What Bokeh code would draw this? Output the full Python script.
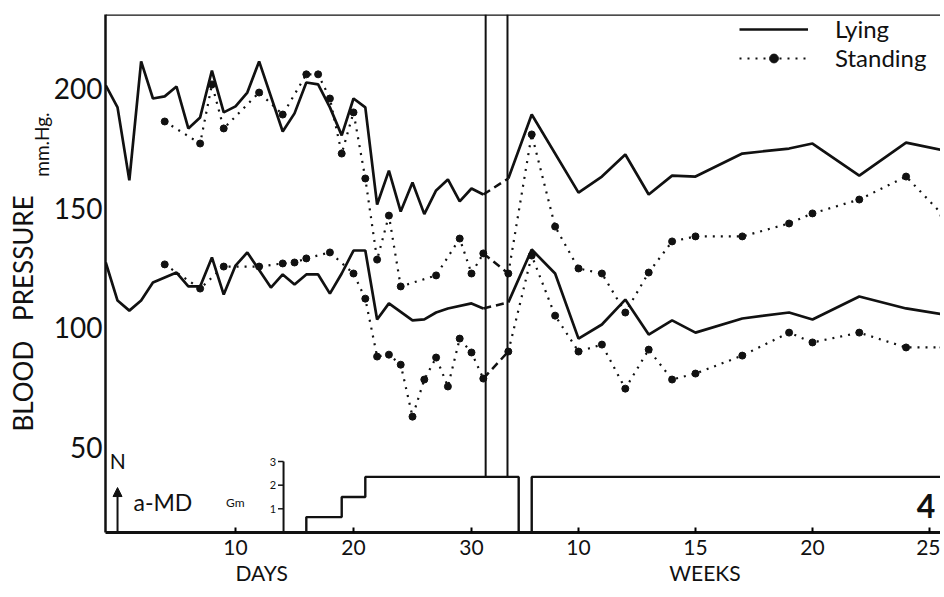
from bokeh.plotting import figure
from bokeh.models import (Range1d, FixedTicker, Span, Label, Arrow, NormalHead,
                          Legend, LegendItem, LinearAxis)
from bokeh.embed import file_html
from bokeh.resources import INLINE

FONT = "Lato"
INK = "#111111"
NB = "\u00a0"

# ---- data (mm Hg) ----
# days after start of a-MD (day -1 = control "N")
lying_sys_days = [-1, 0, 1, 2, 3, 4, 5, 6, 7, 8, 9, 10, 11, 12, 14, 15, 16, 17, 18, 19,
                  20, 21, 22, 23, 24, 25, 26, 27, 28, 29, 30, 31]
lying_sys = [201.3, 192.1, 161.6, 211.3, 195.8, 196.7, 200.8, 183.3, 187.9, 207.5, 190.0,
             192.5, 198.3, 211.3, 182.0, 189.6, 202.5, 201.7, 192.1, 180.4, 195.8, 192.1,
             151.5, 165.7, 148.6, 160.7, 147.5, 157.4, 162.0, 152.8, 158.2, 155.7]

lying_dia_days = [-1, 0, 1, 2, 3, 5, 6, 7, 8, 9, 10, 11, 13, 14, 15, 16, 17, 18, 19, 20,
                  21, 22, 23, 25, 26, 27, 28, 30, 31]
lying_dia = [127.3, 111.4, 107.2, 111.4, 118.9, 123.1, 117.3, 117.3, 129.4, 113.9, 126.0,
             131.5, 116.8, 122.3, 118.1, 122.3, 122.3, 114.3, 122.7, 132.3, 132.3, 103.5,
             110.2, 103.1, 103.5, 106.4, 108.1, 110.2, 108.1]

stand_sys_days = [4, 7, 8, 9, 12, 14, 16, 17, 18, 19, 20, 21, 22, 23, 24, 27, 29, 30, 31]
stand_sys = [186.2, 177.0, 201.7, 183.3, 198.3, 189.1, 205.9, 205.9, 195.8, 172.8, 190.0,
             162.4, 128.5, 146.9, 117.3, 121.9, 137.3, 122.7, 131.1]

stand_dia_days = [4, 7, 9, 12, 14, 15, 16, 18, 20, 21, 22, 23, 24, 25, 26, 27, 28, 29, 30, 31]
stand_dia = [126.5, 116.4, 125.6, 125.6, 126.9, 127.3, 129.0, 131.5, 122.7, 112.2, 88.0,
             88.8, 84.6, 62.9, 78.4, 87.6, 75.5, 95.5, 89.7, 78.8]

# follow-up in weeks
lying_sys_wk = [7, 8, 10, 11, 12, 13, 14, 15, 17, 19, 20, 22, 24, 25.6]
lying_sys_w = [162.4, 189.1, 156.5, 163.2, 172.4, 155.7, 163.6, 163.2, 172.8, 174.9, 177.0,
               163.6, 177.4, 174.1]
lying_dia_wk = [7, 8, 9, 10, 11, 12, 13, 14, 15, 17, 19, 20, 22, 24, 25.6]
lying_dia_w = [110.6, 132.7, 122.7, 95.5, 101.4, 111.8, 97.2, 103.1, 98.0, 103.9, 106.4,
               103.5, 113.1, 108.1, 105.6]
stand_wk = [7, 8, 9, 10, 11, 12, 13, 14, 15, 17, 19, 20, 22, 24, 25.6]
stand_sys_w = [122.7, 180.8, 142.3, 124.8, 122.7, 106.4, 123.1, 136.1, 138.2, 138.2, 143.6,
               147.8, 153.6, 163.2, 146.9]
stand_dia_w = [90.1, 130.2, 105.1, 90.1, 93.0, 74.6, 90.9, 78.4, 80.9, 88.4, 98.0, 93.9,
               98.0, 91.8, 91.8]

# a-MD dose (Gm) steps
dose_days = [16, 16, 19, 21, 34]
dose_gm = [0, 0.65, 1.5, 2.35, 0]
dose_wk = [8, 8, 27]
dose_gm_w = [0, 2.35, 2.35]
gm_ticks = [1, 2, 3]

y_ticks = [50, 100, 150, 200]
day_ticks = [10, 20, 30]
week_ticks = [10, 15, 20, 25]
break_days = [31.2, 33.05]


def wk(w):
    # weeks are drawn on the same axis after the break (1 week = ~2 day widths)
    return round(39.07 + 1.983 * (w - 10), 3)


p = figure(width=940, height=594, output_backend="svg", toolbar_location=None,
           x_range=Range1d(-1.02, 69.75), y_range=Range1d(14.5, 230.9),
           min_border_left=105, min_border_right=0, min_border_top=14, min_border_bottom=62)
p.extra_y_ranges = {"gm": Range1d(0, 21.89)}
p.grid.visible = False
p.outline_line_color = None
p.background_fill_color = "white"

# axes
p.yaxis.ticker = FixedTicker(ticks=y_ticks)
p.yaxis.major_tick_line_color = None
p.yaxis.major_tick_in = 0
p.yaxis.major_tick_out = 0
p.yaxis.minor_tick_line_color = None
p.yaxis.axis_line_width = 2.5
p.yaxis.axis_line_color = INK
p.yaxis.major_label_text_font = FONT
p.yaxis.major_label_text_font_size = "28px"
p.yaxis.major_label_text_color = INK
p.yaxis.major_label_standoff = 3
p.yaxis.axis_label = NB * 53 + "mm.Hg."
p.yaxis.axis_label_text_font = FONT
p.yaxis.axis_label_text_font_size = "19px"
p.yaxis.axis_label_text_font_style = "normal"
p.yaxis.axis_label_text_color = INK
p.yaxis.axis_label_standoff = -2

outer = LinearAxis(ticker=FixedTicker(ticks=[]), axis_line_color=None,
                   major_tick_line_color=None, minor_tick_line_color=None,
                   major_tick_in=0, major_tick_out=0, major_label_standoff=0,
                   major_label_text_font_size="0px",
                   axis_label="BLOOD" + NB * 3 + "PRESSURE" + NB * 12,
                   axis_label_text_font=FONT, axis_label_text_font_size="26px",
                   axis_label_text_font_style="normal", axis_label_text_color=INK,
                   axis_label_standoff=-12)
p.add_layout(outer, "left")

tick_pos = day_ticks + [wk(w) for w in week_ticks]
tick_lab = [str(d) for d in day_ticks] + [str(w) for w in week_ticks]
p.xaxis.ticker = FixedTicker(ticks=tick_pos)
p.xaxis.major_label_overrides = dict(zip(tick_pos, tick_lab))
p.xaxis.major_tick_in = 5
p.xaxis.major_tick_out = 0
p.xaxis.major_tick_line_width = 2
p.xaxis.minor_tick_line_color = None
p.xaxis.axis_line_width = 3
p.xaxis.axis_line_color = INK
p.xaxis.major_label_text_font = FONT
p.xaxis.major_label_text_font_size = "21px"
p.xaxis.major_label_text_color = INK
p.xaxis.major_label_standoff = 7
p.xaxis.axis_label = "DAYS" + NB * 71 + "WEEKS" + NB * 13
p.xaxis.axis_label_text_font = FONT
p.xaxis.axis_label_text_font_size = "21px"
p.xaxis.axis_label_text_font_style = "normal"
p.xaxis.axis_label_text_color = INK
p.xaxis.axis_label_standoff = 2

p.add_layout(Span(location=230.9, dimension="width", line_color=INK, line_width=2.5))

# lying: solid
lw = 2.7
r_lying = p.line(lying_sys_days, lying_sys, line_color=INK, line_width=lw)
p.line(lying_dia_days, lying_dia, line_color=INK, line_width=lw)
p.line([wk(w) for w in lying_sys_wk], lying_sys_w, line_color=INK, line_width=lw)
p.line([wk(w) for w in lying_dia_wk], lying_dia_w, line_color=INK, line_width=lw)

# standing: dotted with dots at readings
dot = dict(line_color=INK, line_width=2.2, line_dash="2 6")
big = dict(size=7, color=INK)
r_stand = p.line(stand_sys_days, stand_sys, **dot)
p.line(stand_dia_days, stand_dia, **dot)
p.line([wk(w) for w in stand_wk], stand_sys_w, **dot)
p.line([wk(w) for w in stand_wk], stand_dia_w, **dot)
r_dots = p.scatter(stand_sys_days, stand_sys, **big)
p.scatter(stand_dia_days, stand_dia, **big)
p.scatter([wk(w) for w in stand_wk], stand_sys_w, **big)
p.scatter([wk(w) for w in stand_wk], stand_dia_w, **big)

# dashed bridges across the break
for a, b, wa in [(lying_sys, lying_sys_w, lying_sys_wk), (lying_dia, lying_dia_w, lying_dia_wk),
                 (stand_sys, stand_sys_w, stand_wk), (stand_dia, stand_dia_w, stand_wk)]:
    p.line([31, wk(wa[0])], [a[-1], b[0]], line_color=INK, line_width=2.5, line_dash="8 5")

# dose steps and Gm scale
p.step(dose_days, dose_gm, mode="after", y_range_name="gm", line_color=INK, line_width=2.4)
p.step([wk(w) for w in dose_wk], dose_gm_w, mode="after", y_range_name="gm",
       line_color=INK, line_width=2.4)
p.segment(x0=break_days, y0=[2.35] * 2, x1=break_days, y1=[21.89] * 2, y_range_name="gm",
          line_color=INK, line_width=2)
p.segment(x0=[14.07], y0=[0], x1=[14.07], y1=[gm_ticks[-1]], y_range_name="gm",
          line_color=INK, line_width=2)
p.segment(x0=[13.6] * 3, y0=gm_ticks, x1=[14.07] * 3, y1=gm_ticks, y_range_name="gm",
          line_color=INK, line_width=1.5)
p.text(x=[13.45] * 3, y=gm_ticks, text=[str(g) for g in gm_ticks], y_range_name="gm",
       text_align="right", text_baseline="middle", text_font_size="11px",
       text_color=INK, text_font={"value": FONT})

p.add_layout(Arrow(end=NormalHead(size=9, fill_color=INK, line_color=INK),
                   x_start=0, y_start=0, x_end=0, y_end=1.9, y_range_name="gm",
                   line_color=INK, line_width=2))


def lab(text, x, y, size, align="left", style="normal"):
    p.add_layout(Label(x=x, y=y, text=text, y_range_name="gm", text_align=align,
                       text_baseline="middle", text_font=FONT, text_font_size=size,
                       text_color=INK, text_font_style=style))


lab("N", -0.65, 3.05, "21px")
lab("a-MD", 1.35, 1.27, "23px")
lab("Gm", 9.2, 1.27, "12px")
lab("4", 69.3, 1.14, "32px", align="right", style="bold")

legend = Legend(items=[LegendItem(label="Lying", renderers=[r_lying]),
                       LegendItem(label="Standing", renderers=[r_stand, r_dots])],
                location=(634, 460), border_line_color=None, background_fill_alpha=0,
                glyph_width=69, glyph_height=22, label_height=22, label_standoff=27,
                spacing=0, padding=0, margin=0, label_text_font=FONT,
                label_text_font_size="24px", label_text_line_height=1.0,
                label_text_color=INK)
p.add_layout(legend)

open("out.html", "w").write(file_html(p, INLINE))
